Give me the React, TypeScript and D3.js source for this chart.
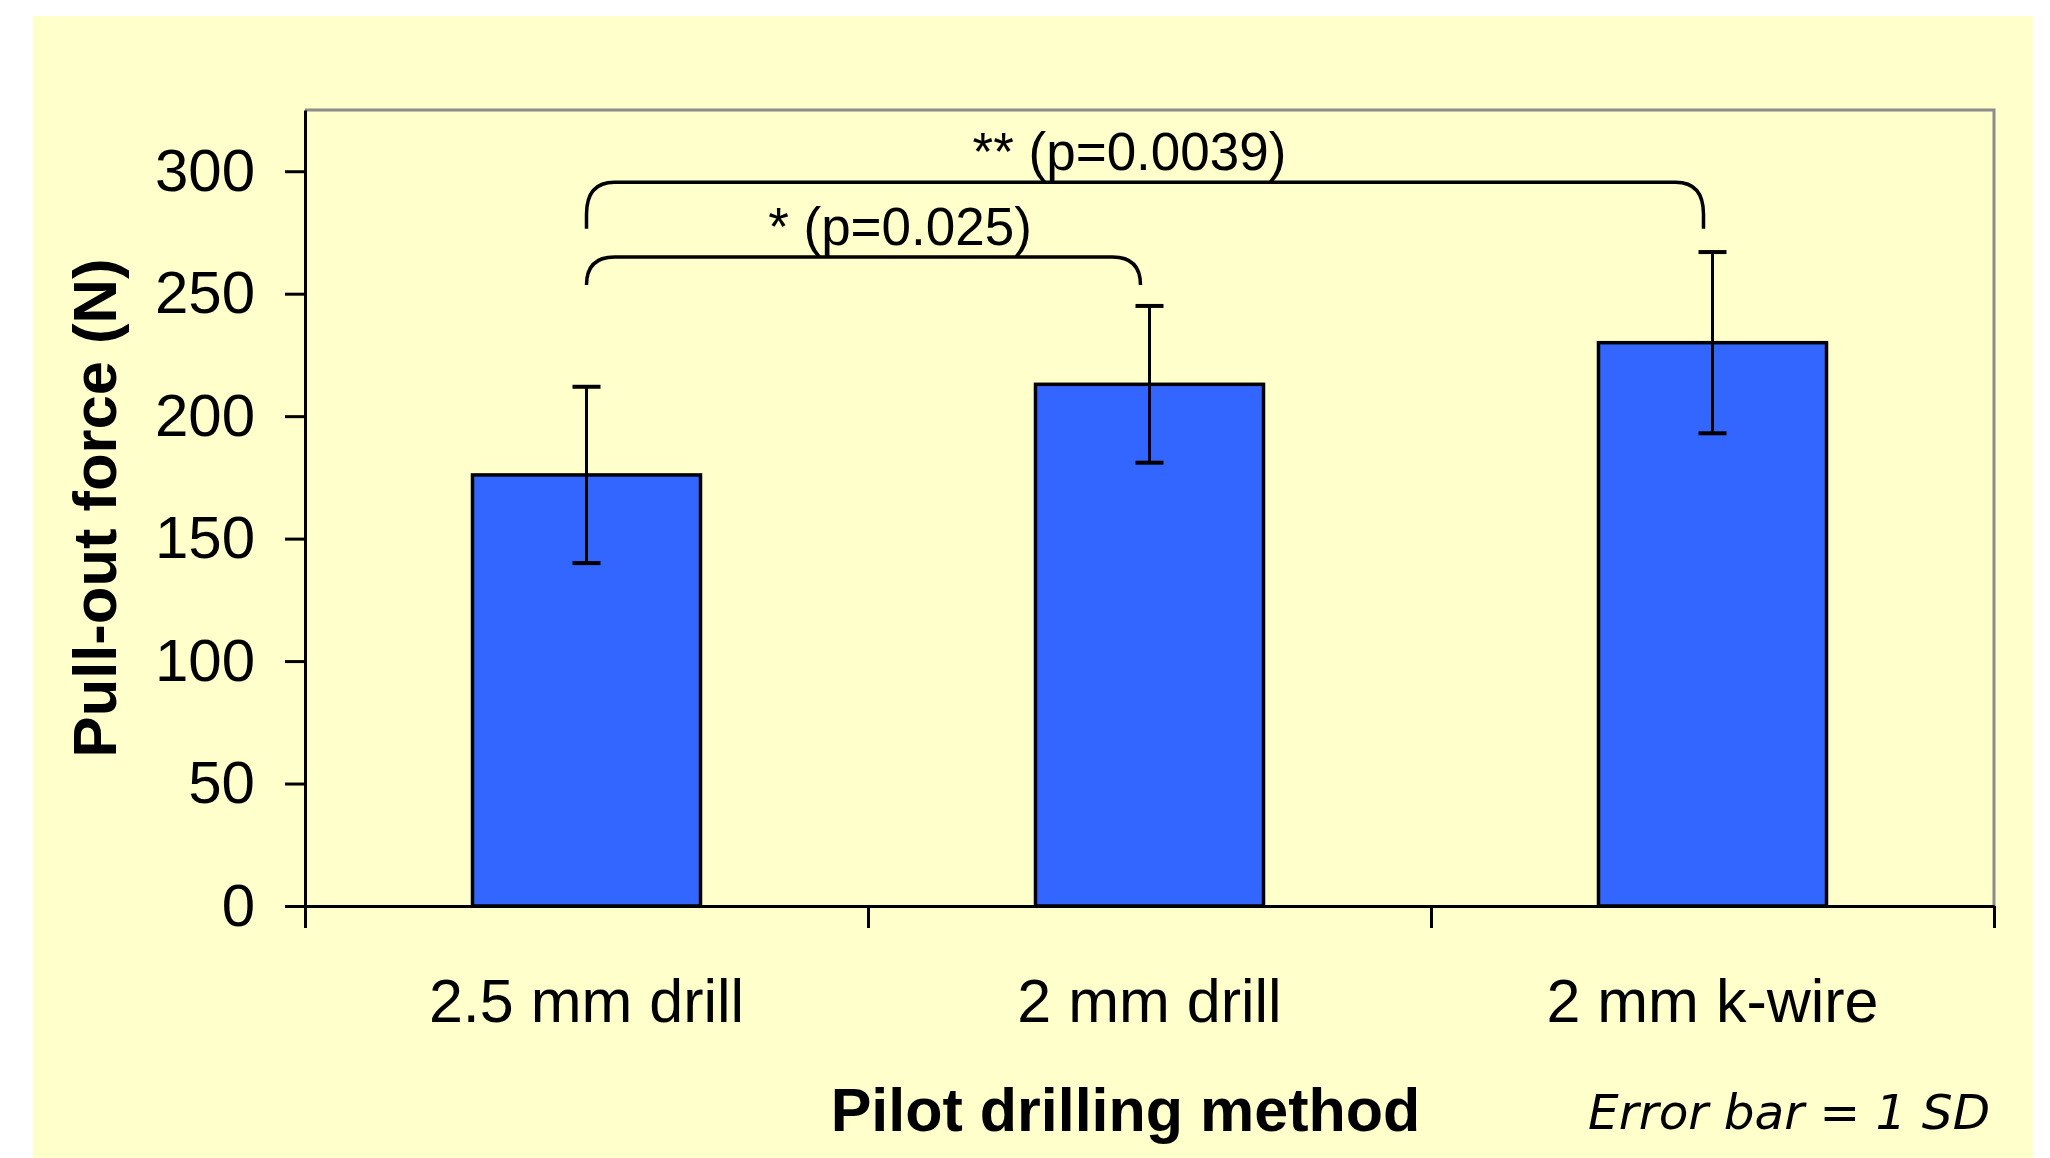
import React, { useEffect, useRef } from "react";
import * as d3 from "d3";

// chart data
const categories = ["2.5 mm drill", "2 mm drill", "2 mm k-wire"];
const meanForce = [176, 213, 230];
const sdForce = [36, 32, 37];
const yTicks = [0, 50, 100, 150, 200, 250, 300];
const comparisons = [
  { from: 0, to: 1, label: "* (p=0.025)" },
  { from: 0, to: 2, label: "** (p=0.0039)" },
];

const W = 2050;
const H = 1158;
const FONT = "'Liberation Sans', Arial, Helvetica, sans-serif";

export default function App() {
  const ref = useRef<SVGSVGElement | null>(null);

  useEffect(() => {
    const svg = d3.select(ref.current);
    svg.selectAll("*").remove();

    const margin = { top: 110, right: 56, bottom: 252, left: 305 };
    const left = margin.left,
      right = W - margin.right,
      top = margin.top,
      bottom = H - margin.bottom;

    // yellow panel
    svg.append("rect").attr("x", 33).attr("y", 16).attr("width", 2000).attr("height", H - 16).attr("fill", "#ffffcc");

    const y = d3.scaleLinear().domain([0, 325]).range([bottom, top]);
    const x = d3.scaleBand<string>().domain(categories).range([left, right]).paddingInner(0.595).paddingOuter(0.2975);
    const xEdge = d3.scaleLinear().domain([0, categories.length]).range([left, right]);

    // grey frame on top and right
    svg.append("path")
      .attr("d", `M${left},${top}H${right}V${bottom}`)
      .attr("fill", "none").attr("stroke", "#8c8c8c").attr("stroke-width", 3);

    const data = categories.map((c, i) => ({ name: c, mean: meanForce[i], sd: sdForce[i] }));

    // bars
    svg.selectAll(".bar").data(data).enter().append("rect")
      .attr("class", "bar")
      .attr("x", (d) => x(d.name)!)
      .attr("y", (d) => y(d.mean))
      .attr("width", x.bandwidth())
      .attr("height", (d) => y(0) - y(d.mean))
      .attr("fill", "#3366ff")
      .attr("stroke", "#000").attr("stroke-width", 3.5);

    // error bars
    const cap = 14;
    const eb = svg.selectAll(".err").data(data).enter().append("g").attr("class", "err")
      .attr("stroke", "#000").attr("stroke-width", 3);
    eb.append("line")
      .attr("x1", (d) => x(d.name)! + x.bandwidth() / 2).attr("x2", (d) => x(d.name)! + x.bandwidth() / 2)
      .attr("y1", (d) => y(d.mean + d.sd)).attr("y2", (d) => y(d.mean - d.sd));
    eb.append("line")
      .attr("x1", (d) => x(d.name)! + x.bandwidth() / 2 - cap).attr("x2", (d) => x(d.name)! + x.bandwidth() / 2 + cap)
      .attr("y1", (d) => y(d.mean + d.sd)).attr("y2", (d) => y(d.mean + d.sd)).attr("stroke-width", 4);
    eb.append("line")
      .attr("x1", (d) => x(d.name)! + x.bandwidth() / 2 - cap).attr("x2", (d) => x(d.name)! + x.bandwidth() / 2 + cap)
      .attr("y1", (d) => y(d.mean - d.sd)).attr("y2", (d) => y(d.mean - d.sd)).attr("stroke-width", 4);

    // y axis
    const yAxis = svg.append("g").attr("transform", `translate(${left},0)`)
      .call(d3.axisLeft(y).tickValues(yTicks).tickSize(20).tickSizeOuter(0).tickPadding(30));
    yAxis.selectAll("path, line").attr("stroke", "#000").attr("stroke-width", 3);
    yAxis.selectAll("text").attr("font-family", FONT).attr("font-size", 60).attr("fill", "#000");

    // x axis with ticks at category edges
    const xAxis = svg.append("g").attr("transform", `translate(0,${bottom})`)
      .call(d3.axisBottom(xEdge).tickValues(d3.range(categories.length + 1)).tickSize(22).tickSizeOuter(0).tickFormat(() => ""));
    xAxis.selectAll("path, line").attr("stroke", "#000").attr("stroke-width", 3);

    svg.selectAll(".cat").data(categories).enter().append("text")
      .attr("x", (d) => x(d)! + x.bandwidth() / 2)
      .attr("y", 1022)
      .attr("text-anchor", "middle")
      .attr("font-family", FONT).attr("font-size", 61)
      .text((d) => d);

    // axis titles
    svg.append("text")
      .attr("transform", `translate(116,${(top + bottom) / 2}) rotate(-90)`)
      .attr("text-anchor", "middle")
      .attr("font-family", FONT).attr("font-weight", "bold").attr("font-size", 61.5)
      .text("Pull-out force (N)");
    svg.append("text")
      .attr("x", (left + right) / 2 - 24).attr("y", 1131)
      .attr("text-anchor", "middle")
      .attr("font-family", FONT).attr("font-weight", "bold").attr("font-size", 61)
      .text("Pilot drilling method");
    svg.append("text")
      .attr("x", 1990).attr("y", 1129)
      .attr("text-anchor", "end")
      .attr("font-family", "'DejaVu Sans', Verdana, sans-serif").attr("font-style", "italic").attr("font-size", 48.5)
      .text("Error bar = 1 SD");

    // significance brackets
    const levels = [{ yTop: 265, yLeg: 253.5, dx: 32 }, { yTop: 295.5, yLeg: 276.5, dx: -20 }];
    const bracket = svg.selectAll(".bracket").data(comparisons).enter().append("g").attr("class", "bracket");
    bracket.append("path")
      .attr("d", (d, i) => {
        const x1 = x(categories[d.from])! + x.bandwidth() / 2;
        const x2 = x(categories[d.to])! + x.bandwidth() / 2 - 9;
        const yt = y(levels[i].yTop);
        const yl = y(levels[i].yLeg);
        const rx = 28, ry = Math.min(32, yl - yt);
        return `M${x1},${yl}V${yt + ry}C${x1},${yt + ry * 0.3} ${x1 + rx * 0.35},${yt} ${x1 + rx},${yt}` +
          `H${x2 - rx}C${x2 - rx * 0.35},${yt} ${x2},${yt + ry * 0.3} ${x2},${yt + ry}V${yl}`;
      })
      .attr("fill", "none").attr("stroke", "#000").attr("stroke-width", 3.5);
    bracket.append("text")
      .attr("x", (d, i) => (x(categories[d.from])! + x(categories[d.to])! + x.bandwidth()) / 2 + levels[i].dx)
      .attr("y", (d, i) => y(levels[i].yTop) - 12)
      .attr("text-anchor", "middle")
      .attr("font-family", FONT).attr("font-size", 53)
      .text((d) => d.label);
  }, []);

  return (
    <svg ref={ref} width={W} height={H}
      style={{ position: "absolute", left: 0, top: 0, background: "#fff" }} />
  );
}
